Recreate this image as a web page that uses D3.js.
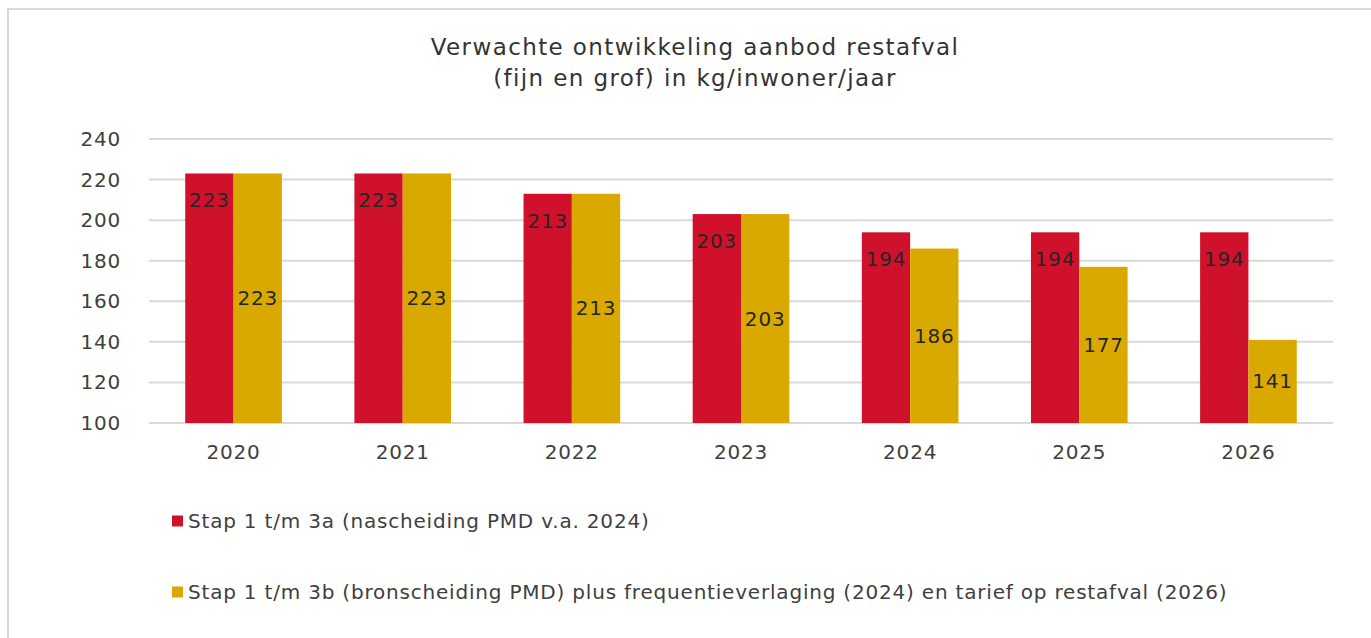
<!DOCTYPE html>
<html><head><meta charset="utf-8">
<script src="https://cdn.jsdelivr.net/npm/d3@7"></script>
<style>body{margin:0;background:#fff;} svg{display:block;} text{letter-spacing:0.8px;}</style>
</head><body>
<svg id="c" width="1371" height="638"></svg>
<script>
const categories = ["2020","2021","2022","2023","2024","2025","2026"];
const seriesA = [223,223,213,203,194,194,194];
const seriesB = [223,223,213,203,186,177,141];
const seriesNames = ["Stap 1 t/m 3a (nascheiding PMD v.a. 2024)","Stap 1 t/m 3b (bronscheiding PMD) plus frequentieverlaging (2024) en tarief op restafval (2026)"];
const colors = ["#D0112B","#DAA900"];
const yTicks = [100,120,140,160,180,200,220,240];
const titleLines = ["Verwachte ontwikkeling aanbod restafval","(fijn en grof) in kg/inwoner/jaar"];

const font = "'DejaVu Sans', sans-serif";
const fw = 400;
const svg = d3.select("#c");
svg.append("rect").attr("x",8).attr("y",9).attr("width",1380).attr("height",640)
  .attr("fill","#fff").attr("stroke","#D9D9D9").attr("stroke-width",2);

const L=149,R=1333,T=139,B=423;
const x = d3.scaleBand().domain(categories).range([L,R]).paddingInner(0.4286).paddingOuter(0.2143);
const xs = d3.scaleBand().domain([0,1]).range([0,x.bandwidth()]);
const y = d3.scaleLinear().domain([100,240]).range([B,T]);

svg.append("g").selectAll("line").data(yTicks).join("line")
  .attr("x1",L).attr("x2",R).attr("y1",d=>y(d)).attr("y2",d=>y(d))
  .attr("stroke","#D9D9D9").attr("stroke-width",2);

svg.append("g").selectAll("text").data(yTicks).join("text")
  .attr("x",121).attr("y",d=>y(d)).attr("dy","0.35em").attr("text-anchor","end")
  .attr("font-family",font).attr("font-weight",fw).attr("font-size",20).attr("fill","#404040").text(d=>d);

const data = [seriesA, seriesB];
data.forEach((s,si)=>{
  const g = svg.append("g");
  g.selectAll("rect").data(s).join("rect")
    .attr("x",(d,i)=>x(categories[i])+xs(si)).attr("width",xs.bandwidth())
    .attr("y",d=>y(d)).attr("height",d=>B-y(d)).attr("fill",colors[si]);
  g.selectAll("text").data(s).join("text")
    .attr("x",(d,i)=>x(categories[i])+xs(si)+xs.bandwidth()/2)
    .attr("y",d=> si===0 ? y(d)+27 : (y(d)+B)/2)
    .attr("dy","0.35em").attr("text-anchor","middle")
    .attr("font-family",font).attr("font-weight",fw).attr("font-size",20).attr("fill","#262626").text(d=>d);
});

svg.append("g").selectAll("text").data(categories).join("text")
  .attr("x",d=>x(d)+x.bandwidth()/2).attr("y",452).attr("dy","0.35em").attr("text-anchor","middle")
  .attr("font-family",font).attr("font-weight",fw).attr("font-size",20).attr("fill","#404040").text(d=>d);

svg.append("g").selectAll("text").data(titleLines).join("text")
  .attr("x",695).attr("y",(d,i)=>47+i*31).attr("dy","0.35em").attr("text-anchor","middle")
  .attr("font-family",font).attr("font-weight",fw).attr("font-size",23).style("letter-spacing","1.4px")
  .attr("fill","#333333").text(d=>d);

const leg = svg.append("g").selectAll("g").data(seriesNames).join("g")
  .attr("transform",(d,i)=>`translate(172,${521+i*71})`);
leg.append("rect").attr("x",0).attr("y",-5.5).attr("width",11).attr("height",11).attr("fill",(d,i)=>colors[i]);
leg.append("text").attr("x",16).attr("y",0).attr("dy","0.35em")
  .attr("font-family",font).attr("font-weight",fw).attr("font-size",20).attr("fill","#404040").text(d=>d);
</script>
</body></html>
